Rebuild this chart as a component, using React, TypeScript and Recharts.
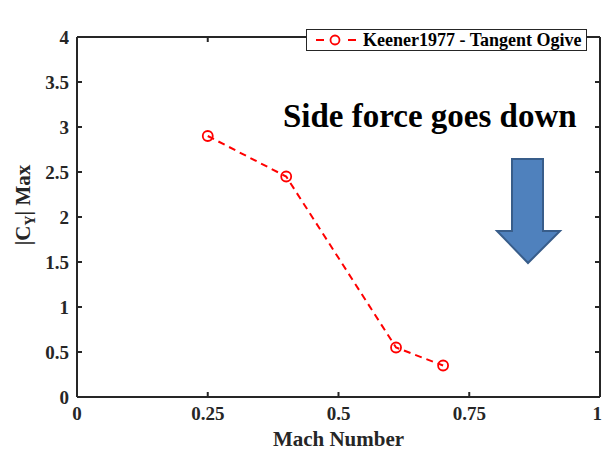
import React from 'react';
import {
  LineChart,
  Line,
  XAxis,
  YAxis,
  Legend,
  ReferenceLine,
} from 'recharts';

// Keener 1977 tangent ogive, max side force vs Mach
const machNumbers = [0.25, 0.4, 0.61, 0.7];
const cyMax = [2.9, 2.45, 0.55, 0.35];
const xTicks = [0, 0.25, 0.5, 0.75, 1];
const yTicks = [0, 0.5, 1, 1.5, 2, 2.5, 3, 3.5, 4];
const seriesName = 'Keener1977 - Tangent Ogive';
const annotation = 'Side force goes down';

const data = machNumbers.map((m, i) => ({ mach: m, cy: cyMax[i] }));

const FONT = '"Liberation Serif", "Times New Roman", serif';
const AXIS = '#262626';
const RED = '#ff0000';
const TICK_LEN = 5;

const tickStyle = { fontSize: 19, fontWeight: 700, fill: '#262626', fontFamily: FONT };

// MATLAB style inward ticks on both ends of a reference line
const VTicks = (p: any) => {
  const x = Number(p.x1);
  const top = Math.min(Number(p.y1), Number(p.y2));
  const bot = Math.max(Number(p.y1), Number(p.y2));
  return (
    <g>
      <line x1={x} x2={x} y1={bot} y2={bot - TICK_LEN} stroke={AXIS} strokeWidth={2} />
      <line x1={x} x2={x} y1={top} y2={top + TICK_LEN} stroke={AXIS} strokeWidth={2} />
    </g>
  );
};

const HTicks = (p: any) => {
  const y = Number(p.y1);
  const l = Math.min(Number(p.x1), Number(p.x2));
  const r = Math.max(Number(p.x1), Number(p.x2));
  return (
    <g>
      <line x1={l} x2={l + TICK_LEN} y1={y} y2={y} stroke={AXIS} strokeWidth={2} />
      <line x1={r} x2={r - TICK_LEN} y1={y} y2={y} stroke={AXIS} strokeWidth={2} />
    </g>
  );
};

const LegendBox = () => (
  <div
    style={{
      border: '1.5px solid #262626',
      background: '#fff',
      display: 'flex',
      alignItems: 'center',
      height: 20,
      padding: '0 4px 0 6px',
      fontFamily: FONT,
      fontWeight: 700,
      fontSize: 18,
      color: '#000',
      whiteSpace: 'nowrap',
    }}
  >
    <svg width={46} height={14} style={{ marginRight: 4 }}>
      <line x1={2} y1={7} x2={44} y2={7} stroke={RED} strokeWidth={2} strokeDasharray="8 8" strokeDashoffset={-1} />
      <circle cx={22} cy={7} r={4.5} fill="#fff" stroke={RED} strokeWidth={1.8} />
    </svg>
    {seriesName}
  </div>
);

const YLabel = () => (
  <text
    transform="translate(30, 205) rotate(-90)"
    textAnchor="middle"
    fontFamily={FONT}
    fontWeight={700}
    fontSize={21}
    fill="#262626"
  >
    |C<tspan fontSize={14} dy={5}>Y</tspan>
    <tspan dy={-5}>| Max</tspan>
  </text>
);

export default function App() {
  return (
    <div style={{ position: 'absolute', left: 0, top: 0, width: 602, height: 450, background: '#fff' }}>
      <LineChart width={602} height={450} data={data} margin={{ top: 14, right: 0, bottom: 0, left: 17 }}>
        <XAxis
          dataKey="mach"
          type="number"
          domain={[0, 1]}
          ticks={xTicks}
          height={53}
          stroke={AXIS}
          strokeWidth={2}
          tickLine={false}
          tickSize={0}
          tickMargin={10}
          tick={tickStyle}
          label={{ value: 'Mach Number', position: 'insideBottom', offset: 4, style: { fontFamily: FONT, fontWeight: 700, fontSize: 21, fill: '#262626' } }}
        />
        <XAxis
          xAxisId="top"
          dataKey="mach"
          type="number"
          orientation="top"
          domain={[0, 1]}
          ticks={xTicks}
          height={1}
          stroke={AXIS}
          strokeWidth={2}
          tickLine={false}
          tickSize={0}
          tick={false}
        />
        <YAxis
          type="number"
          domain={[0, 4]}
          ticks={yTicks}
          width={60}
          stroke={AXIS}
          strokeWidth={2}
          tickLine={false}
          tickSize={0}
          tickMargin={8}
          tick={tickStyle}
          label={<YLabel />}
        />
        <YAxis
          yAxisId="right"
          type="number"
          orientation="right"
          domain={[0, 4]}
          ticks={yTicks}
          width={2}
          stroke={AXIS}
          strokeWidth={2}
          tickLine={false}
          tickSize={0}
          tick={false}
        />
        {xTicks.map((t) => (
          <ReferenceLine key={`xt-${t}`} x={t} stroke={AXIS} shape={VTicks} ifOverflow="visible" />
        ))}
        {yTicks.map((t) => (
          <ReferenceLine key={`yt-${t}`} y={t} stroke={AXIS} shape={HTicks} ifOverflow="visible" />
        ))}
        <Legend
          verticalAlign="top"
          align="right"
          content={() => <LegendBox />}
          wrapperStyle={{ position: 'absolute', left: 306, top: 29, width: 'auto' }}
        />
        <Line
          dataKey="cy"
          name={seriesName}
          stroke={RED}
          strokeWidth={2}
          strokeDasharray="7 5"
          dot={{ r: 5, fill: 'none', stroke: RED, strokeWidth: 1.8, strokeDasharray: '' }}
          isAnimationActive={false}
        />
      </LineChart>
      <svg width={602} height={450} style={{ position: 'absolute', left: 0, top: 0, pointerEvents: 'none' }}>
        <text x={283} y={127} fontFamily={FONT} fontWeight={700} fontSize={33} fill="#000">
          {annotation}
        </text>
        <polygon
          points="512,159 543,159 543,231 560,231 528,263 497,231 512,231"
          fill="#4f81bd"
          stroke="#385d8a"
          strokeWidth={2}
        />
      </svg>
    </div>
  );
}
